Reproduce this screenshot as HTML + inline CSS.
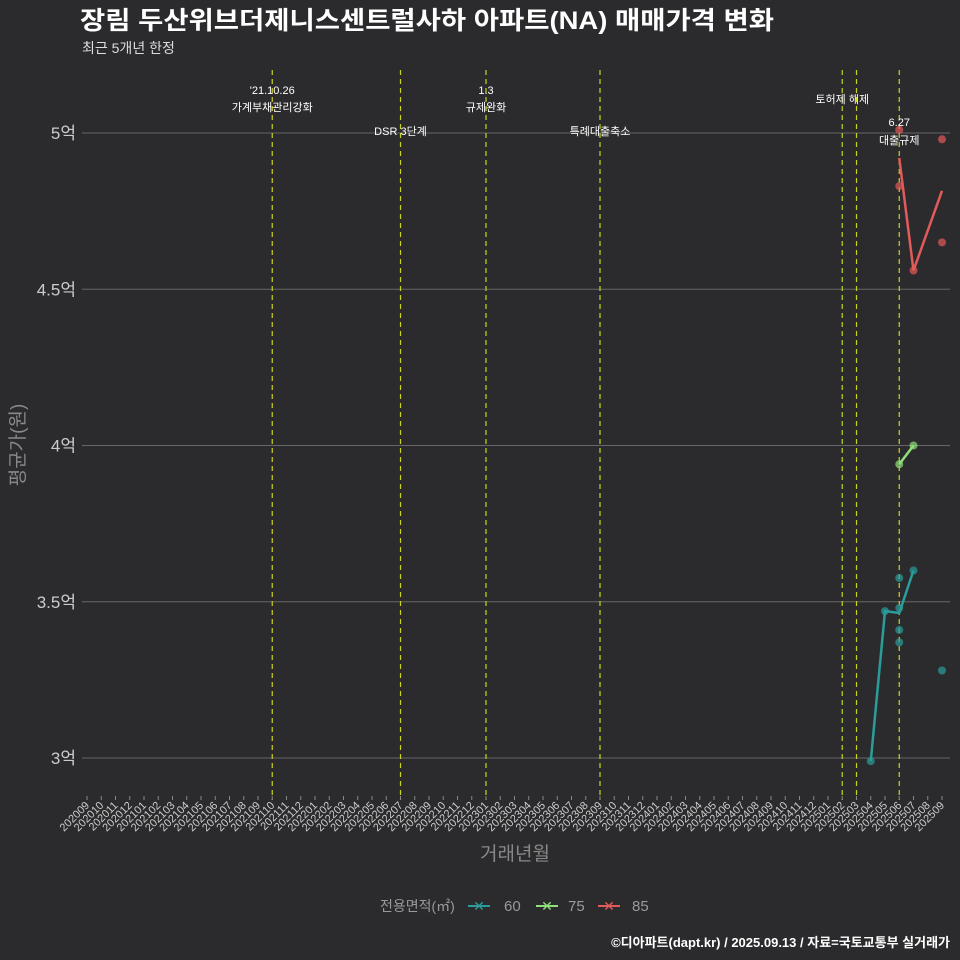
<!DOCTYPE html>
<html><head><meta charset="utf-8"><style>
body{margin:0;background:#2b2b2d;}
svg{display:block;font-family:"Liberation Sans","Noto Sans CJK KR",sans-serif;}
</style></head><body>
<svg id="c" width="960" height="960" xmlns="http://www.w3.org/2000/svg">
<rect width="960" height="960" fill="#2b2b2d"/>
<text x="80" y="29" font-size="25" font-weight="bold" fill="#fff" textLength="694" lengthAdjust="spacingAndGlyphs">장림 두산위브더제니스센트럴사하 아파트(NA) 매매가격 변화</text>
<text x="82" y="53" font-size="14" fill="#ddd">최근 5개년 한정</text>
<g id="grid"></g><g id="events"></g><g id="series"></g><g id="xaxis"></g>
<text transform="translate(24,445) rotate(-90)" text-anchor="middle" font-size="19" fill="#888">평균가(원)</text>
<text x="515" y="860" text-anchor="middle" font-size="19" fill="#888">거래년월</text>
<g>
<text x="380" y="911" font-size="14" fill="#999">전용면적(㎡)</text>
<g><line x1="468" y1="906" x2="490" y2="906" stroke="#2a9d9a" stroke-width="2"/><text x="479" y="911" text-anchor="middle" fill="#2a9d9a" font-size="14">✕</text><text x="504" y="911" font-size="15" fill="#999">60</text></g>
<g><line x1="536" y1="906" x2="558" y2="906" stroke="#90e07a" stroke-width="2"/><text x="547" y="911" text-anchor="middle" fill="#90e07a" font-size="14">✕</text><text x="568" y="911" font-size="15" fill="#999">75</text></g>
<g><line x1="598" y1="906" x2="620" y2="906" stroke="#e35a5a" stroke-width="2"/><text x="609" y="911" text-anchor="middle" fill="#e35a5a" font-size="14">✕</text><text x="632" y="911" font-size="15" fill="#999">85</text></g>
</g>
<text x="950" y="947" text-anchor="end" font-size="13" font-weight="bold" fill="#fff">©디아파트(dapt.kr) / 2025.09.13 / 자료=국토교통부 실거래가</text>
</svg>
<script>
const months=[];for(let y=2020,m=9;!(y===2025&&m===10);){months.push(y+String(m).padStart(2,'0'));m++;if(m>12){m=1;y++;}}
const yTicks=[3,3.5,4,4.5,5];
const yTickLabels=['3억','3.5억','4억','4.5억','5억'];
const eventMonths=['202110','202207','202301','202309','202502','202503','202506'];
const eventLabels=[["'21.10.26","가계부채관리강화"],["DSR 3단계"],["1.3","규제완화"],["특례대출축소"],["토허제 해제"],[""],["6.27","대출규제"]];
const eventLabelY=[[94,111],[135],[94,111],[135],[103],[0],[126,144]];
const s60Months=['202504','202505','202506','202507'];
const s60Values=[2.99,3.47,3.464,3.60];
const s60PtMonths=['202504','202505','202506','202506','202506','202506','202507','202509'];
const s60PtValues=[2.99,3.47,3.576,3.48,3.41,3.37,3.60,3.28];
const s75Months=['202506','202507'];
const s75Values=[3.94,4.00];
const s75PtMonths=['202506','202507'];
const s75PtValues=[3.94,4.00];
const s85Months=['202506','202507','202509'];
const s85Values=[4.92,4.56,4.815];
const s85PtMonths=['202506','202506','202507','202509','202509'];
const s85PtValues=[5.01,4.83,4.56,4.98,4.65];
const NS='http://www.w3.org/2000/svg';
const X=m=>87+months.indexOf(m)*14.25;
const Y=v=>758-(v-3)*312.5;
function mk(t,a,p){const e=document.createElementNS(NS,t);for(const k in a)e.setAttribute(k,a[k]);p.appendChild(e);return e;}
const g=document.getElementById('grid');
yTicks.forEach((v,i)=>{
 const l=mk('line',{x1:82,x2:950,y1:Y(v),y2:Y(v),stroke:'#666','stroke-width':1},g);
 
 
 const t=mk('text',{x:76,y:Y(v)+6,'text-anchor':'end','font-size':17,fill:'#ccc'},g);
 
 
 t.textContent=yTickLabels[i];
});
const ev=document.getElementById('events');
eventMonths.forEach((m,i)=>{
 const l=mk('line',{x1:X(m),x2:X(m),y1:70,y2:800,stroke:'#c8d41e','stroke-width':1.2,'stroke-dasharray':'5,4'},ev);
 
 
 eventLabels[i].forEach((s,j)=>{ if(!s)return;
  const t=mk('text',{x:X(m),y:eventLabelY[i][j],'text-anchor':'middle','font-size':11,fill:'#fff'},ev);
  
  
  t.textContent=s;});
});
const xa=document.getElementById('xaxis');
months.forEach(m=>{
 const x=X(m);
 const tk=mk('line',{x1:x,x2:x,y1:796,y2:800,stroke:'#888'},xa);
 
 
 const t=mk('text',{transform:`translate(${x+3},${806}) rotate(-45)`,'text-anchor':'end','font-size':11,fill:'#ccc'},xa);
 
 
 t.textContent=m;
});
const sg=document.getElementById('series');
function series(name,col,ms,vs,pm,pv){
 const p=mk('polyline',{points:ms.map((m,i)=>X(m)+','+Y(vs[i])).join(' '),fill:'none',stroke:col,'stroke-width':2.5},sg);
 
 
 pm.forEach((m,i)=>{
  const c=mk('circle',{cx:X(m),cy:Y(pv[i]),r:4,fill:col,'fill-opacity':0.7},sg);
  
  
 });
}
series('60','#2a9d9a',s60Months,s60Values,s60PtMonths,s60PtValues);
series('75','#90e07a',s75Months,s75Values,s75PtMonths,s75PtValues);
series('85','#e35a5a',s85Months,s85Values,s85PtMonths,s85PtValues);
</script>
</body></html>
